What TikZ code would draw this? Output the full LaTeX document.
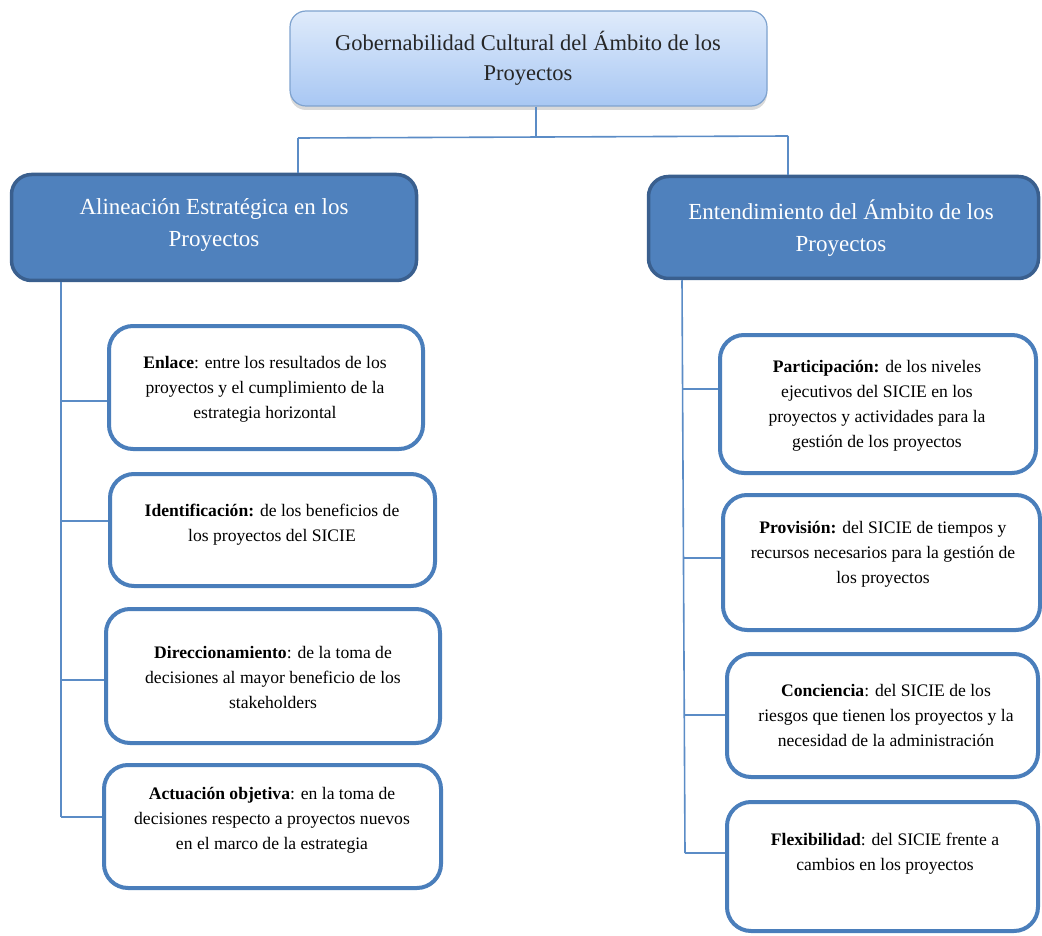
\documentclass[tikz,border=0pt]{standalone}
\usepackage{fontspec}
\setmainfont{Liberation Serif}
\usetikzlibrary{shadows}
\definecolor{hdrfill}{HTML}{4F81BD}
\definecolor{hdrline}{HTML}{3A5F8E}
\definecolor{boxline}{HTML}{4A7EBB}
\definecolor{conn}{HTML}{5B8CC6}
\definecolor{toptop}{HTML}{DFEBFB}
\definecolor{topbot}{HTML}{A8C7F3}
\definecolor{topline}{HTML}{7FA3CF}
\tikzset{
  topbox/.style={draw=topline, line width=1.2pt, rounded corners=16pt,
    top color=toptop, bottom color=topbot,
    drop shadow={shadow xshift=0pt, shadow yshift=-4pt, opacity=0.25, fill=black!60}},
  hdrbox/.style={draw=hdrline, fill=hdrfill, line width=3.5pt, rounded corners=20pt},
  itembox/.style={draw=boxline, fill=white, line width=4pt, rounded corners=24pt},
  hdrtext/.style={text=white, align=center, font=\fontsize{23}{32}\selectfont},
  toptext/.style={text=black!85, align=center, font=\fontsize{22.5}{30}\selectfont},
  itemtext/.style={text=black, align=center, font=\fontsize{17.6}{25}\selectfont},
  connline/.style={draw=conn, line width=1.6pt}
}
\begin{document}
\begin{tikzpicture}[x=1pt,y=-1pt]
\useasboundingbox (0,0) rectangle (1042,936);

% top box
\node[topbox, minimum width=477pt, minimum height=95pt] (top) at (528.5,58.5) {};
\node[toptext] (ttop) at (528,58) {Gobernabilidad Cultural del Ámbito de los\\Proyectos};

% header boxes
\node[hdrbox, minimum width=405pt, minimum height=106pt] (L) at (214,227.5) {};
\node[hdrtext] (tL) at (214,225) {Alineación Estratégica en los\\Proyectos};
\node[hdrbox, minimum width=390pt, minimum height=102pt] (R) at (843.5,227.5) {};
\node[hdrtext] (tR) at (841,228) {Entendimiento del Ámbito de los\\Proyectos};

% left items
\node[itembox, minimum width=314pt, minimum height=123pt] (b1) at (266,387.5) {};
\node[itemtext] (t1) at (265,389) {\textbf{Enlace}: entre los resultados de los\\proyectos y el cumplimiento de la\\estrategia horizontal};
\node[itembox, minimum width=325pt, minimum height=112pt] (b2) at (272.5,530) {};
\node[itemtext] (t2) at (272,524.5) {\textbf{Identificación:} de los beneficios de\\los proyectos del SICIE};
\node[itembox, minimum width=334pt, minimum height=134pt] (b3) at (273,676) {};
\node[itemtext] (t3) at (273,677) {\textbf{Direccionamiento}: de la toma de\\decisiones al mayor beneficio de los\\stakeholders};
\node[itembox, minimum width=337pt, minimum height=123pt] (b4) at (272.5,826.5) {};
\node[itemtext] (t4) at (272,820) {\textbf{Actuación objetiva}: en la toma de\\decisiones respecto a proyectos nuevos\\en el marco de la estrategia};

% right items
\node[itembox, minimum width=316pt, minimum height=138pt] (r1) at (878,404) {};
\node[itemtext] (u1) at (877,406) {\textbf{Participación:} de los niveles\\ejecutivos del SICIE en los\\proyectos y actividades para la\\gestión de los proyectos};
\node[itembox, minimum width=317pt, minimum height=135pt] (r2) at (881.5,562.5) {};
\node[itemtext] (u2) at (883,554) {\textbf{Provisión:} del SICIE de tiempos y\\recursos necesarios para la gestión de\\los proyectos};
\node[itembox, minimum width=311pt, minimum height=123pt] (r3) at (882.5,715.5) {};
\node[itemtext] (u3) at (886,715) {\textbf{Conciencia}: del SICIE de los\\riesgos que tienen los proyectos y la\\necesidad de la administración};
\node[itembox, minimum width=311pt, minimum height=129pt] (r4) at (882.5,866.5) {};
\node[itemtext] (u4) at (885,854) {\textbf{Flexibilidad}: del SICIE frente a\\cambios en los proyectos};

% connectors from top
\coordinate (j) at (536,137);
\coordinate (jl) at (298,138);
\coordinate (jr) at (788,136);
\draw[connline] (top.south -| j) -- (j);
\draw[connline] (jl) -- (jr);
\draw[connline] (jl) -- (jl |- L.north);
\draw[connline] (jr) -- (jr |- R.north);

% left trunk
\coordinate (lx) at (61,0);
\coordinate (e1) at (61,401);
\coordinate (e2) at (61,521);
\coordinate (e3) at (61,680);
\coordinate (e4) at (61,817);
\draw[connline] (lx |- L.south) -- (e4);
\draw[connline] (e1) -- (e1 -| b1.west);
\draw[connline] (e2) -- (e2 -| b2.west);
\draw[connline] (e3) -- (e3 -| b3.west);
\draw[connline] (e4) -- (e4 -| b4.west);

% right trunk
\coordinate (rx) at (682,0);
\coordinate (f1) at (683,389);
\coordinate (f2) at (684,558);
\coordinate (f3) at (684.5,715);
\coordinate (f4) at (685,853);
\draw[connline] (rx |- R.south) -- (f4);
\draw[connline] (f1) -- (f1 -| r1.west);
\draw[connline] (f2) -- (f2 -| r2.west);
\draw[connline] (f3) -- (f3 -| r3.west);
\draw[connline] (f4) -- (f4 -| r4.west);
\end{tikzpicture}
\end{document}
